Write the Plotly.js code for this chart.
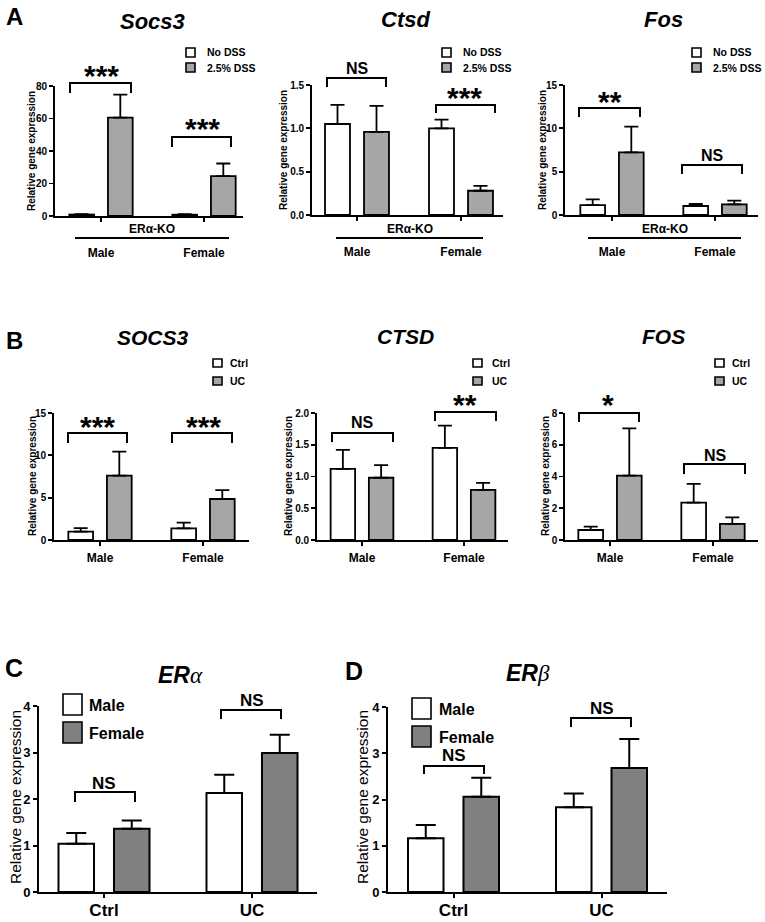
<!DOCTYPE html>
<html><head><meta charset="utf-8">
<script src="https://cdn.plot.ly/plotly-3.0.1.min.js"></script>
<style>html,body{margin:0;padding:0;background:#fff;}#chart{width:765px;height:922px;}</style>
</head><body><div id="chart"></div>
<script>
// ---------- data ----------
const catsSex = ['Male', 'Female'];
const catsGroup = ['Ctrl', 'UC'];

// A: ERα-KO mice
const socs3_noDSS = [0.9, 0.8];     const socs3_noDSS_sem = [0.3, 0.3];
const socs3_DSS   = [60.5, 24.6];   const socs3_DSS_sem   = [14.2, 7.7];
const ctsd_noDSS  = [1.05, 1.00];   const ctsd_noDSS_sem  = [0.22, 0.10];
const ctsd_DSS    = [0.96, 0.28];   const ctsd_DSS_sem    = [0.30, 0.055];
const fos_noDSS   = [1.15, 1.04];   const fos_noDSS_sem   = [0.66, 0.23];
const fos_DSS     = [7.23, 1.23];   const fos_DSS_sem     = [2.96, 0.42];

// B: human
const SOCS3_ctrl = [1.0, 1.38];     const SOCS3_ctrl_sem = [0.40, 0.67];
const SOCS3_uc   = [7.6, 4.84];     const SOCS3_uc_sem   = [2.83, 1.06];
const CTSD_ctrl  = [1.12, 1.45];    const CTSD_ctrl_sem  = [0.30, 0.35];
const CTSD_uc    = [0.98, 0.79];    const CTSD_uc_sem    = [0.20, 0.11];
const FOS_ctrl   = [0.63, 2.35];    const FOS_ctrl_sem   = [0.21, 1.18];
const FOS_uc     = [4.05, 1.01];    const FOS_uc_sem     = [2.98, 0.42];

// C/D
const ERa_male   = [1.04, 2.13];    const ERa_male_sem   = [0.23, 0.39];
const ERa_female = [1.36, 2.99];    const ERa_female_sem = [0.18, 0.39];
const ERb_male   = [1.16, 1.83];    const ERb_male_sem   = [0.29, 0.30];
const ERb_female = [2.06, 2.68];    const ERb_female_sem = [0.41, 0.63];

const legendA = ['No DSS', '2.5% DSS'];
const legendB = ['Ctrl', 'UC'];
const legendCD = ['Male', 'Female'];

// ---------- layout helpers ----------
const W = 765, H = 922;
const FONT = 'Liberation Sans, Arial, sans-serif';
const X = v => v / W, Y = v => 1 - v / H;
const GRAY = '#a6a6a6', DGRAY = '#808080';

const panels = [
  {cats: catsSex, s: [[socs3_noDSS, socs3_noDSS_sem, legendA[0]], [socs3_DSS, socs3_DSS_sem, legendA[1]]], L: 55, R: 243, c0: 101, c1: 204, top: 86, bot: 216, ymax: 80, dtick: 20, fmt: 'd', big: false, g2: GRAY},
  {cats: catsSex, s: [[ctsd_noDSS, ctsd_noDSS_sem, legendA[0]], [ctsd_DSS, ctsd_DSS_sem, legendA[1]]], L: 312, R: 503, c0: 357, c1: 461, top: 85, bot: 215, ymax: 1.5, dtick: 0.5, fmt: '.1f', big: false, g2: GRAY},
  {cats: catsSex, s: [[fos_noDSS, fos_noDSS_sem, legendA[0]], [fos_DSS, fos_DSS_sem, legendA[1]]], L: 565, R: 758, c0: 612, c1: 715, top: 85, bot: 215, ymax: 15, dtick: 5, fmt: 'd', big: false, g2: GRAY},
  {cats: catsSex, s: [[SOCS3_ctrl, SOCS3_ctrl_sem, legendB[0]], [SOCS3_uc, SOCS3_uc_sem, legendB[1]]], L: 54, R: 249, c0: 100, c1: 203, top: 413, bot: 540, ymax: 15, dtick: 5, fmt: 'd', big: false, g2: GRAY},
  {cats: catsSex, s: [[CTSD_ctrl, CTSD_ctrl_sem, legendB[0]], [CTSD_uc, CTSD_uc_sem, legendB[1]]], L: 317, R: 508, c0: 362, c1: 464, top: 413, bot: 540, ymax: 2, dtick: 0.5, fmt: '.1f', big: false, g2: GRAY},
  {cats: catsSex, s: [[FOS_ctrl, FOS_ctrl_sem, legendB[0]], [FOS_uc, FOS_uc_sem, legendB[1]]], L: 565, R: 758, c0: 610, c1: 713, top: 413, bot: 540, ymax: 8, dtick: 2, fmt: 'd', big: false, g2: GRAY},
  {cats: catsGroup, s: [[ERa_male, ERa_male_sem, legendCD[0]], [ERa_female, ERa_female_sem, legendCD[1]]], L: 39, R: 317, c0: 104, c1: 252, top: 706, bot: 892, ymax: 4, dtick: 1, fmt: 'd', big: true, g2: DGRAY},
  {cats: catsGroup, s: [[ERb_male, ERb_male_sem, legendCD[0]], [ERb_female, ERb_female_sem, legendCD[1]]], L: 388, R: 667, c0: 453.5, c1: 601.5, top: 707, bot: 892, ymax: 4, dtick: 1, fmt: 'd', big: true, g2: DGRAY}
];

const traces = [];
const layout = {
  width: W, height: H, margin: {l: 0, r: 0, t: 0, b: 0},
  paper_bgcolor: '#fff', plot_bgcolor: 'rgba(0,0,0,0)',
  barmode: 'group', bargap: 0.25, bargroupgap: 0.36,
  showlegend: false, font: {family: FONT, color: '#000'},
  shapes: [], annotations: []
};

panels.forEach((p, i) => {
  const n = i === 0 ? '' : String(i + 1);
  const xa = 'x' + n, ya = 'y' + n;
  const S = p.c1 - p.c0;
  const lw = p.big ? 2 : 1.8;
  p.s.forEach((ser, k) => {
    traces.push({
      type: 'bar', x: p.cats, y: ser[0], name: ser[2], xaxis: xa, yaxis: ya,
      marker: {color: k === 0 ? '#ffffff' : p.g2, line: {color: '#000', width: lw}},
      error_y: {type: 'data', array: ser[1], arrayminus: [0, 0], symmetric: false, color: '#000', thickness: lw, width: p.big ? 10 : 7}
    });
  });
  const tickSize = p.big ? 13 : 10;
  layout['xaxis' + n] = {
    domain: [X(p.L), X(p.R)], anchor: ya, type: 'category',
    range: [(p.L - p.c0) / S, (p.R - p.c0) / S],
    showline: true, linecolor: '#000', linewidth: lw, ticks: 'outside', ticklen: 4, tickwidth: lw, tickcolor: '#000',
    tickfont: {family: FONT, size: p.big ? 17 : 12, weight: 'bold'},
    ticklabelstandoff: i < 3 ? 21 : (p.big ? -2 : 2),
    showgrid: false, zeroline: false, fixedrange: true
  };
  layout['yaxis' + n] = {
    domain: [Y(p.bot), Y(p.top)], anchor: xa, range: [0, p.ymax], dtick: p.dtick, tick0: 0,
    tickformat: p.fmt === 'd' ? 'd' : '.1f',
    showline: true, linecolor: '#000', linewidth: lw, ticks: 'outside', ticklen: 4, tickwidth: lw, tickcolor: '#000',
    tickfont: {family: FONT, size: tickSize, weight: 'bold'},
    showgrid: false, zeroline: false, fixedrange: true
  };
});

function ann(x, y, text, size, extra) {
  return Object.assign({xref: 'paper', yref: 'paper', x: X(x), y: Y(y), text: text, showarrow: false,
    xanchor: 'center', yanchor: 'middle', font: {family: FONT, size: size, color: '#000'}}, extra || {});
}
function bracket(x1, x2, yt, yb) {
  return {type: 'path', xref: 'paper', yref: 'paper',
    path: `M ${X(x1)},${Y(yb)} L ${X(x1)},${Y(yt)} L ${X(x2)},${Y(yt)} L ${X(x2)},${Y(yb)}`,
    line: {color: '#000', width: 2}};
}
function rect(x0, y0, x1, y1, fill) {
  return {type: 'rect', xref: 'paper', yref: 'paper', x0: X(x0), x1: X(x1), y0: Y(y1), y1: Y(y0),
    fillcolor: fill, line: {color: '#000', width: 1.6}};
}
function hline(x0, x1, y) {
  return {type: 'line', xref: 'paper', yref: 'paper', x0: X(x0), x1: X(x1), y0: Y(y), y1: Y(y), line: {color: '#000', width: 2}};
}
const B = t => '<b>' + t + '</b>';
const stars = (x, y, s) => ann(x, y + 4, B(s), 30);
const ns = (x, y, big) => ann(x, y, B('NS'), big ? 17 : 16);

const A = layout.annotations, SH = layout.shapes;

// panel letters
A.push(ann(14, 16, B('A'), 24), ann(14, 340, B('B'), 24), ann(14, 668, B('C'), 25), ann(354, 671, B('D'), 25));

// titles
const it = t => '<b><i>' + t + '</i></b>';
A.push(ann(152, 21, it('Socs3'), 22), ann(405, 20, it('Ctsd'), 22), ann(663, 20, it('Fos'), 22));
A.push(ann(153, 338, it('SOCS3'), 21), ann(405, 337, it('CTSD'), 21), ann(663, 337, it('FOS'), 21));
const greek = g => `<span style="font-family:'Liberation Serif',serif;font-style:italic;font-weight:normal">${g}</span>`;
A.push(ann(180, 675, it('ER') + greek('α'), 23), ann(528, 673, it('ER') + greek('β'), 23));

// y titles
const yt = 'Relative gene expression';
[[32, 151], [283, 150], [542, 150], [32, 476], [288, 476], [545, 476]].forEach(c =>
  A.push(ann(c[0], c[1], B(yt), 10, {textangle: -90})));
A.push(ann(15, 797, yt, 15.5, {textangle: -90}), ann(362, 797, yt, 15.5, {textangle: -90}));

// legends A
[[186, 205], [442, 461], [692, 711]].forEach(l => {
  SH.push(rect(l[0], 48, l[0] + 9, 57, '#fff'), rect(l[0], 63, l[0] + 9, 72, GRAY));
  A.push(ann(l[1], 52.5, B(legendA[0]), 10.5, {xanchor: 'left'}), ann(l[1], 67.5, B(legendA[1]), 10.5, {xanchor: 'left'}));
});
// legends B
[[213, 228], [473, 490], [715, 730]].forEach(l => {
  SH.push(rect(l[0], 359, l[0] + 9, 367, '#fff'), rect(l[0], 377, l[0] + 9, 385, GRAY));
  A.push(ann(l[1], 363, B(legendB[0]), 10.5, {xanchor: 'left'}), ann(l[1], 381, B(legendB[1]), 10.5, {xanchor: 'left'}));
});
// legends C/D
[[63, 87, 694], [412, 437, 698]].forEach(l => {
  SH.push(rect(l[0], l[2], l[0] + 19, l[2] + 21, '#fff'), rect(l[0], l[2] + 28, l[0] + 19, l[2] + 49, DGRAY));
  A.push(ann(l[1], l[2] + 11, B(legendCD[0]), 16, {xanchor: 'left'}), ann(l[1], l[2] + 39, B(legendCD[1]), 16, {xanchor: 'left'}));
});

// ERα-KO labels
[[75, 229], [336, 483], [588, 741]].forEach(l => {
  SH.push(hline(l[0], l[1], 238));
  A.push(ann((l[0] + l[1]) / 2, 229, B('ERα-KO'), 12));
});

// significance brackets
SH.push(bracket(70, 131, 83, 93), bracket(172, 231, 137, 147));
A.push(stars(101, 71, '***'), stars(202, 125, '***'));
SH.push(bracket(327, 386, 78, 87), bracket(436, 495, 105, 113));
A.push(ns(357, 68), stars(465, 93, '***'));
SH.push(bracket(579, 640, 108, 117), bracket(682, 742, 165, 174));
A.push(stars(610, 97, '**'), ns(712, 155));

SH.push(bracket(68, 127, 433, 443), bracket(172, 232, 433, 443));
A.push(stars(98, 422, '***'), stars(203, 422, '***'));
SH.push(bracket(332, 393, 433, 442), bracket(435, 496, 412, 421));
A.push(ns(362, 422), stars(465, 400, '**'));
SH.push(bracket(579, 639, 413, 422), bracket(684, 745, 464, 474));
A.push(stars(608, 400, '*'), ns(715, 455));

SH.push(bracket(75, 135, 792, 802), bracket(221, 281, 710, 719));
A.push(ns(104, 783, true), ns(252, 700, true));
SH.push(bracket(424, 484, 766, 774), bracket(571, 631, 718, 727));
A.push(ns(454, 755, true), ns(602, 708, true));

Plotly.newPlot('chart', traces, layout, {staticPlot: true, displayModeBar: false});
</script></body></html>
